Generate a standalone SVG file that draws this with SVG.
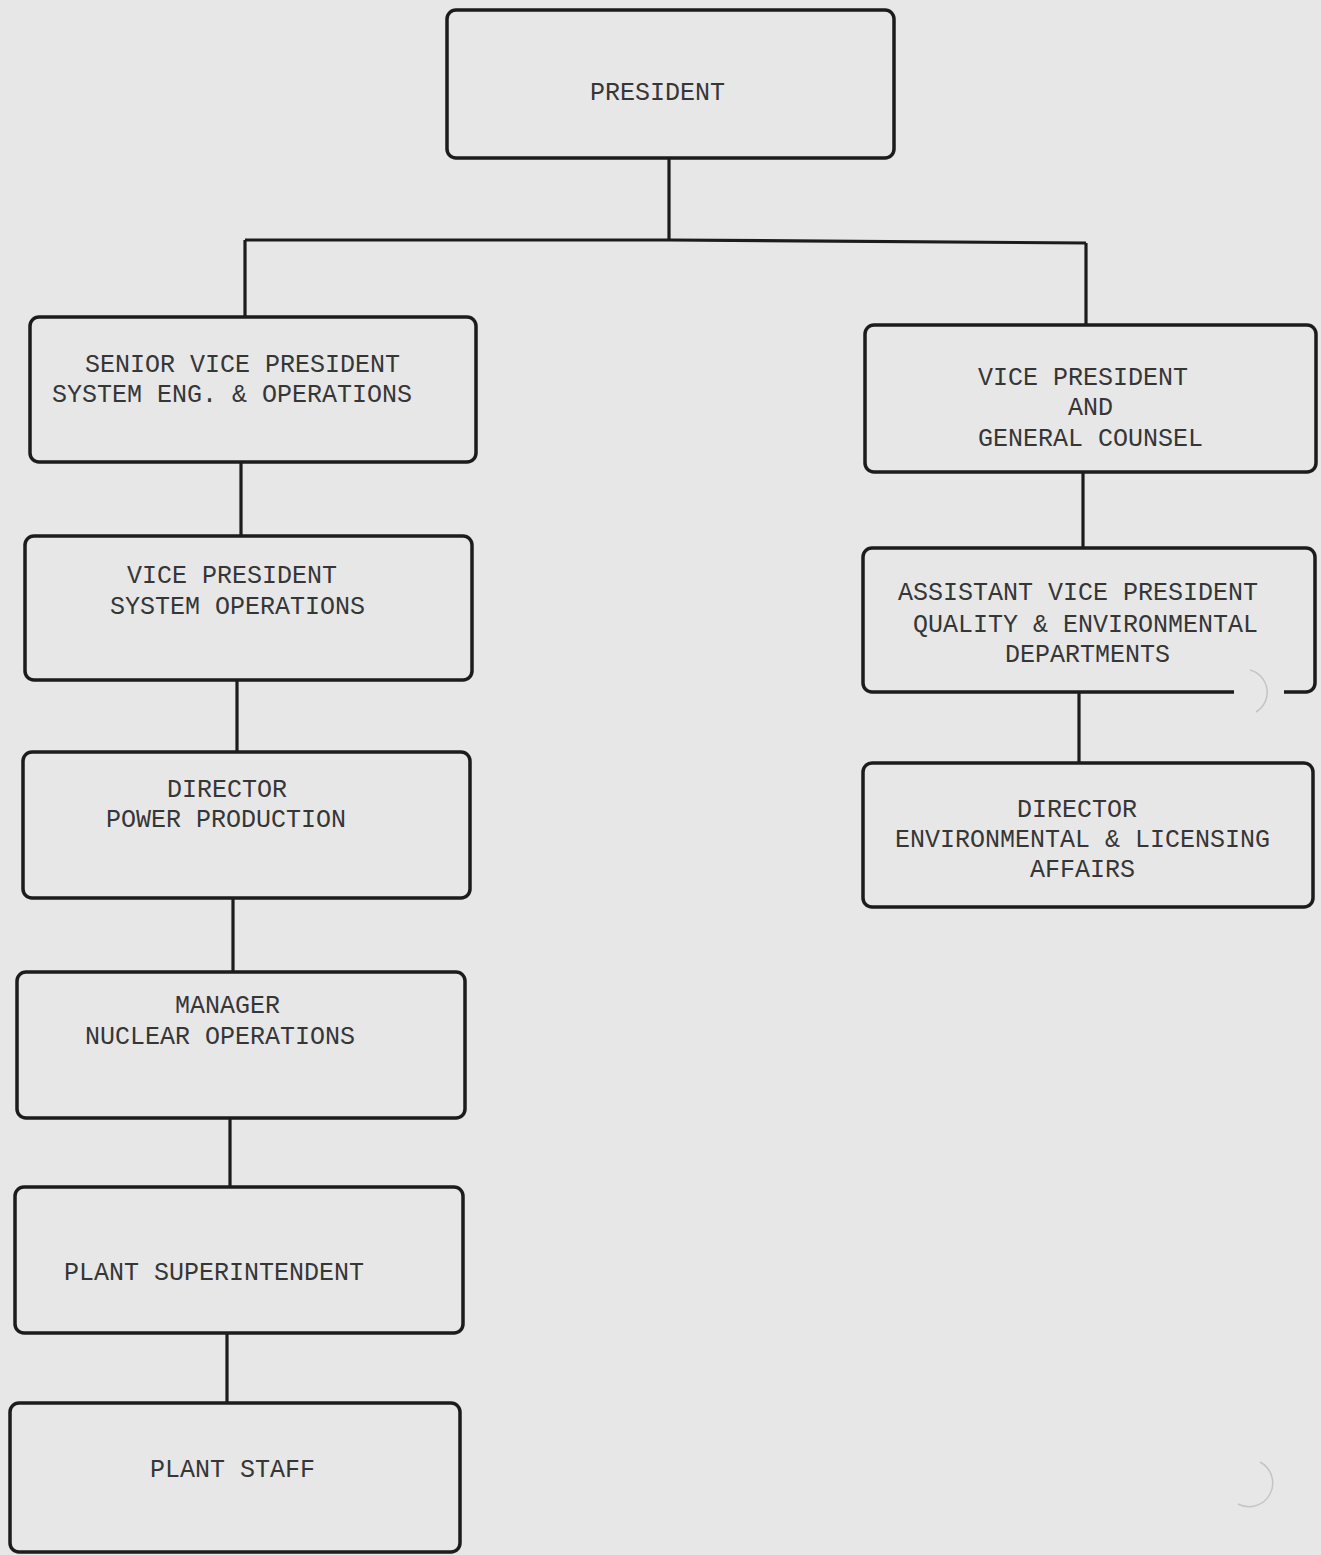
<svg xmlns="http://www.w3.org/2000/svg" width="1321" height="1555" viewBox="0 0 1321 1555">
  <style>
    .box { fill: none; stroke: #1c1c1c; stroke-width: 3.5; }
    .wire { fill: none; stroke: #1c1c1c; stroke-width: 3.2; }
    .lbl { font-family: "Liberation Mono", "DejaVu Sans Mono", monospace; font-size: 25px; fill: #363636; }
    .hole { fill: none; stroke: #c4c4c4; stroke-width: 1.5; }
  </style>
  <rect x="0" y="0" width="1321" height="1555" fill="#e7e7e7"/>

  <!-- reporting lines -->
  <g id="connectors">
    <path class="wire" d="M669 158 V240"/>
    <path class="wire" d="M245 240 L669 240 L1086 243"/>
    <path class="wire" d="M245 240 V317"/>
    <path class="wire" d="M1086 243 V325"/>
    <path class="wire" d="M241 462 V536"/>
    <path class="wire" d="M237 680 V752"/>
    <path class="wire" d="M233 898 V972"/>
    <path class="wire" d="M230 1118 V1187"/>
    <path class="wire" d="M227 1333 V1403"/>
    <path class="wire" d="M1083 472 V548"/>
    <path class="wire" d="M1079 692 V763"/>
  </g>

  <g id="president">
    <rect class="box" x="447" y="10" width="447" height="148" rx="9"/>
    <text class="lbl" x="590" y="100">PRESIDENT</text>
  </g>

  <g id="senior-vp">
    <rect class="box" x="30" y="317" width="446" height="145" rx="9"/>
    <text class="lbl" x="85" y="372">SENIOR VICE PRESIDENT</text>
    <text class="lbl" x="52" y="402">SYSTEM ENG. &amp; OPERATIONS</text>
  </g>

  <g id="vp-general-counsel">
    <rect class="box" x="865" y="325" width="451" height="147" rx="9"/>
    <text class="lbl" x="978" y="385">VICE PRESIDENT</text>
    <text class="lbl" x="1068" y="415">AND</text>
    <text class="lbl" x="978" y="446">GENERAL COUNSEL</text>
  </g>

  <g id="vp-system-operations">
    <rect class="box" x="25" y="536" width="447" height="144" rx="9"/>
    <text class="lbl" x="127" y="583">VICE PRESIDENT</text>
    <text class="lbl" x="110" y="614">SYSTEM OPERATIONS</text>
  </g>

  <g id="director-power-production">
    <rect class="box" x="23" y="752" width="447" height="146" rx="9"/>
    <text class="lbl" x="167" y="797">DIRECTOR</text>
    <text class="lbl" x="106" y="827">POWER PRODUCTION</text>
  </g>

  <g id="manager-nuclear-operations">
    <rect class="box" x="17" y="972" width="448" height="146" rx="9"/>
    <text class="lbl" x="175" y="1013">MANAGER</text>
    <text class="lbl" x="85" y="1044">NUCLEAR OPERATIONS</text>
  </g>

  <g id="plant-superintendent">
    <rect class="box" x="15" y="1187" width="448" height="146" rx="9"/>
    <text class="lbl" x="64" y="1280">PLANT SUPERINTENDENT</text>
  </g>

  <g id="plant-staff">
    <rect class="box" x="10" y="1403" width="450" height="149" rx="9"/>
    <text class="lbl" x="150" y="1477">PLANT STAFF</text>
  </g>

  <g id="assistant-vp">
    <path class="box" d="M1234 692 H872 A9 9 0 0 1 863 683 V557 A9 9 0 0 1 872 548 H1306 A9 9 0 0 1 1315 557 V683 A9 9 0 0 1 1306 692 H1284"/>
    <text class="lbl" x="898" y="600">ASSISTANT VICE PRESIDENT</text>
    <text class="lbl" x="913" y="632">QUALITY &amp; ENVIRONMENTAL</text>
    <text class="lbl" x="1005" y="662">DEPARTMENTS</text>
  </g>

  <g id="director-environmental-licensing">
    <rect class="box" x="863" y="763" width="450" height="144" rx="9"/>
    <text class="lbl" x="1017" y="817">DIRECTOR</text>
    <text class="lbl" x="895" y="847">ENVIRONMENTAL &amp; LICENSING</text>
    <text class="lbl" x="1030" y="877">AFFAIRS</text>
  </g>

  <!-- binder punch holes in the sheet: faint partial rims -->
  <path class="hole" d="M1250 670 A23 23 0 0 1 1256 712"/>
  <path class="hole" d="M1260 1462 A20 20 0 0 1 1238 1504"/>
</svg>
